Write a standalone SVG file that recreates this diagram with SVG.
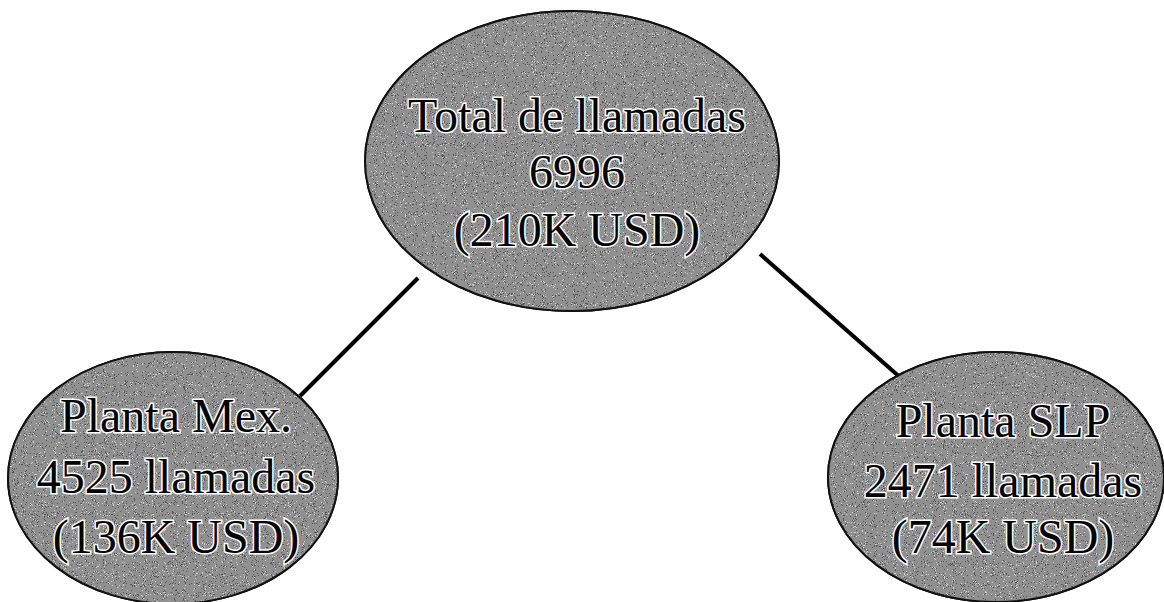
<svg xmlns="http://www.w3.org/2000/svg" width="1164" height="602" viewBox="0 0 1164 602">
<style>
.node{fill:#909090;stroke:#111;stroke-width:2}
.noise{fill:#909090;filter:url(#grain)}
.lbl{font-family:"Liberation Serif","Times New Roman",serif;font-size:48px;fill:#000;stroke:#fff;stroke-width:3;paint-order:stroke;text-anchor:middle}
.edge{stroke:#000;stroke-width:4;fill:none}
</style>
<defs>
<filter id="grain" x="0" y="0" width="100%" height="100%">
<feTurbulence type="fractalNoise" baseFrequency="1.1" numOctaves="2" seed="3" result="n"/>
<feColorMatrix in="n" type="matrix" values="0 0 0 0 0  0 0 0 0 0  0 0 0 0 0  -3 0 0 0 1.5" result="a"/>
<feComponentTransfer in="a" result="b"><feFuncA type="discrete" tableValues="0 0.7"/></feComponentTransfer>
<feFlood flood-color="#222"/>
<feComposite in2="b" operator="in" result="dark"/>
<feColorMatrix in="n" type="matrix" values="0 0 0 0 0  0 0 0 0 0  0 0 0 0 0  3 0 0 0 -1.6" result="a2"/>
<feComponentTransfer in="a2" result="b2"><feFuncA type="discrete" tableValues="0 0.6"/></feComponentTransfer>
<feFlood flood-color="#eee"/>
<feComposite in2="b2" operator="in" result="light"/>
<feMerge><feMergeNode in="SourceGraphic"/><feMergeNode in="dark"/><feMergeNode in="light"/></feMerge>
</filter>
<clipPath id="c1"><ellipse cx="572" cy="161" rx="207" ry="150"/></clipPath>
<clipPath id="c2"><ellipse cx="173" cy="478" rx="165" ry="126"/></clipPath>
<clipPath id="c3"><ellipse cx="996" cy="477" rx="168" ry="125"/></clipPath>
</defs>
<rect width="1164" height="602" fill="#fff"/>
<g id="connectors">
<line class="edge" x1="418" y1="278" x2="300" y2="396"/>
<line class="edge" x1="760" y1="254" x2="902" y2="379"/>
</g>
<g id="total">
<ellipse class="node" cx="572" cy="161" rx="207" ry="150"/>
<rect class="noise" x="365" y="11" width="414" height="300" clip-path="url(#c1)"/>
<ellipse cx="572" cy="161" rx="207" ry="150" fill="none" stroke="#111" stroke-width="2"/>
<text class="lbl" x="577" y="132">Total de llamadas</text>
<text class="lbl" x="577" y="188">6996</text>
<text class="lbl" x="577" y="246">(210K USD)</text>
</g>
<g id="mex">
<ellipse class="node" cx="173" cy="478" rx="165" ry="126"/>
<rect class="noise" x="8" y="352" width="330" height="252" clip-path="url(#c2)"/>
<ellipse cx="173" cy="478" rx="165" ry="126" fill="none" stroke="#111" stroke-width="2"/>
<text class="lbl" x="176" y="432">Planta Mex.</text>
<text class="lbl" x="176" y="493">4525 llamadas</text>
<text class="lbl" x="176" y="553">(136K USD)</text>
</g>
<g id="slp">
<ellipse class="node" cx="996" cy="477" rx="168" ry="125"/>
<rect class="noise" x="828" y="352" width="336" height="250" clip-path="url(#c3)"/>
<ellipse cx="996" cy="477" rx="168" ry="125" fill="none" stroke="#111" stroke-width="2"/>
<text class="lbl" x="1003" y="437">Planta SLP</text>
<text class="lbl" x="1003" y="497">2471 llamadas</text>
<text class="lbl" x="1003" y="553">(74K USD)</text>
</g>
</svg>
